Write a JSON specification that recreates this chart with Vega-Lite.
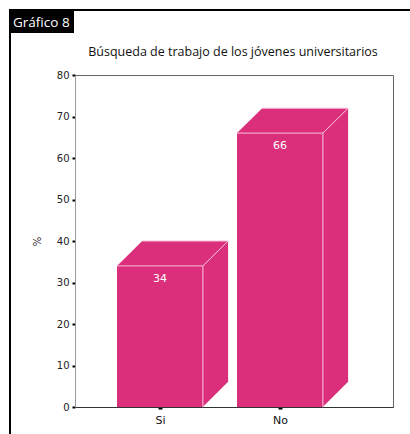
{
  "$schema": "https://vega.github.io/schema/vega-lite/v6.json",
  "width": 318,
  "height": 332,
  "autosize": "none",
  "padding": {"left": 75, "top": 75, "right": 17, "bottom": 27},
  "background": "white",
  "config": {"view": {"stroke": "#666", "strokeWidth": 1}, "axis": {"grid": false}},
  "datasets": {"bars": [{"cat": "Si", "pct": 34}, {"cat": "No", "pct": 66}]},
  "data": {"name": "bars"},
  "transform": [
    {"calculate": "indexof(['Si','No'], datum.cat) + 0.708", "as": "c"},
    {"calculate": "datum.c - 0.358", "as": "x0"},
    {"calculate": "datum.c + 0.358", "as": "x1"},
    {"calculate": "datum.c + 0.358 + 0.21", "as": "xb"},
    {"calculate": "datum.c - 0.358 + 0.21", "as": "xbl"},
    {"calculate": "datum.pct + 6", "as": "ptop"},
    {"calculate": "6", "as": "dz"},
    {"calculate": "0", "as": "zero"}
  ],
  "layer": [
    {
      "mark": {"type": "rect", "color": "#dc2f7b"},
      "encoding": {
        "x": {"field": "x0", "type": "quantitative", "scale": {"domain": [0, 2.65], "nice": false, "zero": false},
          "axis": {"values": [0.708, 1.708], "labelExpr": "datum.value < 1.2 ? 'Si' : 'No'", "title": null, "domainColor": "#333", "tickColor": "#000", "tickSize": 2, "tickWidth": 4, "labelFont": "DejaVu Sans", "labelFontSize": 11, "labelColor": "#111", "labelPadding": 5}},
        "x2": {"field": "x1"},
        "y": {"field": "pct", "type": "quantitative", "scale": {"domain": [0, 80], "nice": false},
          "axis": {"values": [0, 10, 20, 30, 40, 50, 60, 70, 80], "title": "%", "titleFont": "DejaVu Sans", "titleFontSize": 10, "titleFontWeight": "normal", "titleColor": "#222", "titlePadding": 14, "domainColor": "#999", "tickColor": "#000", "tickSize": 3, "tickWidth": 2, "labelFont": "DejaVu Sans", "labelFontSize": 10, "labelColor": "#222", "labelPadding": 3}},
        "y2": {"datum": 0}
      }
    },
    {
      "transform": [{"calculate": "[0,1]", "as": "k"}, {"flatten": ["k"]},
        {"calculate": "datum.x1 + datum.k * 0.21", "as": "sx"},
        {"calculate": "datum.k * 6", "as": "sy"},
        {"calculate": "datum.pct + datum.k * 6", "as": "sy2"}],
      "mark": {"type": "area", "color": "#dc2f7b", "orient": "vertical"},
      "encoding": {
        "x": {"field": "sx", "type": "quantitative"},
        "y": {"field": "sy", "type": "quantitative"},
        "y2": {"field": "sy2"},
        "detail": {"field": "cat"}
      }
    },
    {
      "transform": [{"calculate": "[0,1]", "as": "k"}, {"flatten": ["k"]},
        {"calculate": "datum.x0 + datum.k * 0.21", "as": "tx"},
        {"calculate": "datum.x1 + datum.k * 0.21", "as": "tx2"},
        {"calculate": "datum.pct + datum.k * 6", "as": "ty"}],
      "mark": {"type": "area", "color": "#dc2f7b", "orient": "horizontal"},
      "encoding": {
        "y": {"field": "ty", "type": "quantitative"},
        "x": {"field": "tx", "type": "quantitative"},
        "x2": {"field": "tx2"},
        "detail": {"field": "cat"}
      }
    },
    {
      "mark": {"type": "rule", "color": "#f8c3da", "strokeWidth": 1},
      "encoding": {"x": {"field": "x0", "type": "quantitative"}, "x2": {"field": "x1"}, "y": {"field": "pct", "type": "quantitative"}}
    },
    {
      "mark": {"type": "rule", "color": "#f8c3da", "strokeWidth": 1},
      "encoding": {"x": {"field": "x1", "type": "quantitative"}, "y": {"field": "zero", "type": "quantitative"}, "y2": {"field": "pct"}}
    },
    {
      "mark": {"type": "rule", "color": "#f8c3da", "strokeWidth": 1},
      "encoding": {"x": {"field": "x1", "type": "quantitative"}, "x2": {"field": "xb"}, "y": {"field": "pct", "type": "quantitative"}, "y2": {"field": "ptop"}}
    },
    {
      "mark": {"type": "rule", "color": "#f8c3da", "strokeWidth": 1},
      "encoding": {"x": {"field": "x1", "type": "quantitative"}, "x2": {"field": "xb"}, "y": {"field": "zero", "type": "quantitative"}, "y2": {"field": "dz"}}
    },
    {
      "mark": {"type": "rule", "color": "#f8c3da", "strokeWidth": 1},
      "encoding": {"x": {"field": "xbl", "type": "quantitative"}, "x2": {"field": "xb"}, "y": {"field": "ptop", "type": "quantitative"}}
    },
    {
      "mark": {"type": "text", "color": "white", "font": "DejaVu Sans", "fontSize": 11, "baseline": "middle", "dy": 13},
      "encoding": {"x": {"field": "c", "type": "quantitative"}, "y": {"field": "pct", "type": "quantitative"}, "text": {"field": "pct", "type": "quantitative"}}
    },
    {
      "data": {"values": [{}]},
      "transform": [],
      "mark": {"type": "rule", "color": "#000", "strokeWidth": 2},
      "encoding": {"x": {"value": -65}, "y": {"value": -65}, "y2": {"value": 359}}
    },
    {
      "data": {"values": [{}]},
      "transform": [],
      "mark": {"type": "rule", "color": "#000", "strokeWidth": 2},
      "encoding": {"x": {"value": -66}, "x2": {"value": 335}, "y": {"value": -65}}
    },
    {
      "data": {"values": [{}]},
      "transform": [],
      "mark": {"type": "rect", "color": "#000"},
      "encoding": {"x": {"value": -65}, "x2": {"value": -1}, "y": {"value": -65}, "y2": {"value": -42}}
    },
    {
      "data": {"values": [{"t": "Gráfico 8"}]},
      "transform": [],
      "mark": {"type": "text", "color": "white", "font": "Open Sans", "fontSize": 13.5, "align": "left", "baseline": "alphabetic"},
      "encoding": {"x": {"value": -62}, "y": {"value": -48}, "text": {"field": "t"}}
    },
    {
      "data": {"values": [{"t": "Búsqueda de trabajo de los jóvenes universitarios"}]},
      "transform": [],
      "mark": {"type": "text", "color": "#111", "font": "Open Sans", "fontSize": 12.5, "align": "center", "baseline": "alphabetic"},
      "encoding": {"x": {"value": 158}, "y": {"value": -19}, "text": {"field": "t"}}
    }
  ]
}
